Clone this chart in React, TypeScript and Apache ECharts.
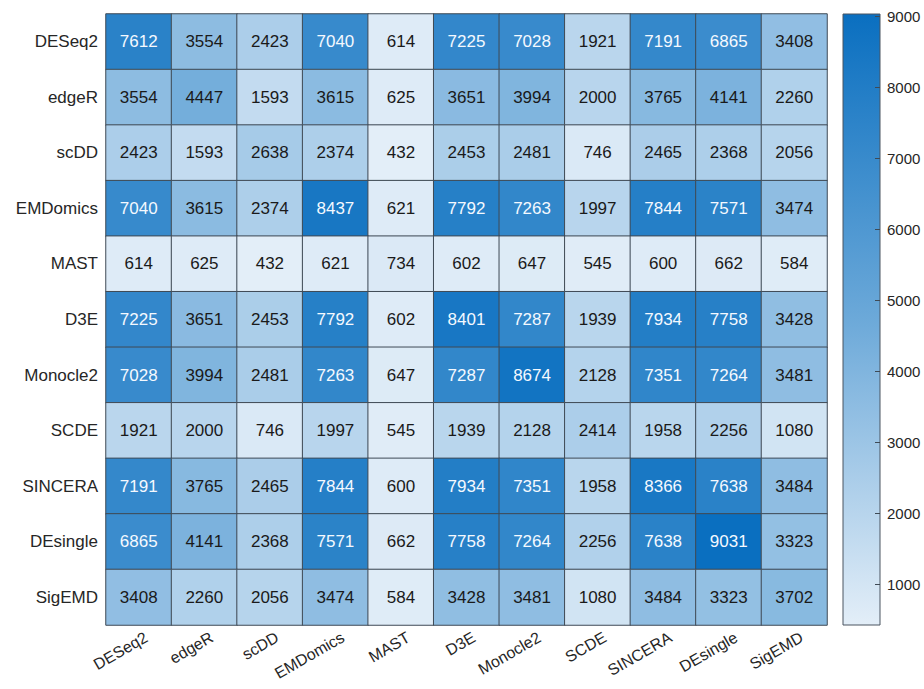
import React, { useEffect, useRef } from "react";
import * as echarts from "echarts";

const methods = ["DESeq2", "edgeR", "scDD", "EMDomics", "MAST", "D3E", "Monocle2", "SCDE", "SINCERA", "DEsingle", "SigEMD"];

const overlap: number[][] = [
  [7612, 3554, 2423, 7040, 614, 7225, 7028, 1921, 7191, 6865, 3408],
  [3554, 4447, 1593, 3615, 625, 3651, 3994, 2000, 3765, 4141, 2260],
  [2423, 1593, 2638, 2374, 432, 2453, 2481, 746, 2465, 2368, 2056],
  [7040, 3615, 2374, 8437, 621, 7792, 7263, 1997, 7844, 7571, 3474],
  [614, 625, 432, 621, 734, 602, 647, 545, 600, 662, 584],
  [7225, 3651, 2453, 7792, 602, 8401, 7287, 1939, 7934, 7758, 3428],
  [7028, 3994, 2481, 7263, 647, 7287, 8674, 2128, 7351, 7264, 3481],
  [1921, 2000, 746, 1997, 545, 1939, 2128, 2414, 1958, 2256, 1080],
  [7191, 3765, 2465, 7844, 600, 7934, 7351, 1958, 8366, 7638, 3484],
  [6865, 4141, 2368, 7571, 662, 7758, 7264, 2256, 7638, 9031, 3323],
  [3408, 2260, 2056, 3474, 584, 3428, 3481, 1080, 3484, 3323, 3702],
];

const colorbarTicks = [1000, 2000, 3000, 4000, 5000, 6000, 7000, 8000, 9000];

const LIGHT = "#e3eef8";
const MID = "#6ca9d9";
const DARK = "#0a6fc0";
const FONT = "'Liberation Sans', Arial, Helvetica, sans-serif";

export default function App() {
  const ref = useRef<HTMLDivElement>(null);

  useEffect(() => {
    document.body.style.margin = "0";
    if (!ref.current) return;
    const chart = echarts.init(ref.current, undefined, { renderer: "svg" });

    const flat = overlap.flat();
    const vmin = Math.min(...flat);
    const vmax = Math.max(...flat);

    const heatData: any[] = [];
    overlap.forEach((row, yi) => {
      row.forEach((v, xi) => {
        heatData.push({
          value: [xi, yi, v],
          label: { color: v > 5500 ? "#f4f9ff" : "#1a1a1a" },
        });
      });
    });

    chart.setOption({
      animation: false,
      backgroundColor: "#ffffff",
      textStyle: { fontFamily: FONT },
      grid: [
        { left: 106, top: 14, width: 721, height: 611, containLabel: false, outerBoundsMode: "none" },
        { left: 843, top: 14, width: 37, height: 611, containLabel: false, outerBoundsMode: "none" },
      ],
      xAxis: [
        {
          type: "category",
          gridIndex: 0,
          data: methods,
          position: "bottom",
          axisLine: { show: false },
          axisTick: { show: false },
          splitLine: { show: false },
          axisLabel: {
            rotate: 30,
            margin: 6,
            fontSize: 16,
            lineHeight: 16,
            color: "#262626",
            fontFamily: FONT,
            interval: 0,
            align: "right",
            verticalAlign: "top",
            padding: [0, -4, 0, 0],
          },
        },
        {
          type: "category",
          gridIndex: 1,
          data: ["cb"],
          show: false,
        },
      ],
      yAxis: [
        {
          type: "category",
          gridIndex: 0,
          data: methods,
          inverse: true,
          axisLine: { show: false },
          axisTick: { show: false },
          splitLine: { show: false },
          axisLabel: {
            margin: 8,
            fontSize: 17,
            color: "#262626",
            fontFamily: FONT,
            interval: 0,
          },
        },
        {
          type: "value",
          gridIndex: 1,
          position: "right",
          min: vmin,
          max: vmax,
          z: 10,
          axisLine: { show: false },
          splitLine: { show: false },
          axisTick: {
            show: true,
            inside: true,
            length: 5,
            customValues: colorbarTicks,
            lineStyle: { color: "#3f4a55", width: 1 },
          },
          axisLabel: {
            show: true,
            margin: 7,
            fontSize: 15,
            color: "#262626",
            fontFamily: FONT,
            customValues: colorbarTicks,
            formatter: (v: number) => String(v),
          },
        },
      ],
      visualMap: {
        show: false,
        type: "continuous",
        seriesIndex: 0,
        dimension: 2,
        min: vmin,
        max: vmax,
        inRange: { color: [LIGHT, MID, DARK] },
      },
      series: [
        {
          type: "heatmap",
          xAxisIndex: 0,
          yAxisIndex: 0,
          data: heatData,
          itemStyle: { borderColor: "#3f4a55", borderWidth: 1 },
          label: {
            show: true,
            fontSize: 17,
            fontFamily: FONT,
            formatter: (p: any) => String(p.value[2]),
          },
          emphasis: { disabled: true },
        },
        {
          type: "custom",
          xAxisIndex: 1,
          yAxisIndex: 1,
          z: 1,
          data: [[0, vmax]],
          renderItem: (params: any, api: any) => {
            const top = api.coord([0, vmax]);
            const bot = api.coord([0, vmin]);
            const size = api.size([1, 0]);
            return {
              type: "rect",
              shape: {
                x: top[0] - size[0] / 2,
                y: top[1],
                width: size[0],
                height: bot[1] - top[1],
              },
              style: {
                fill: new echarts.graphic.LinearGradient(0, 0, 0, 1, [
                  { offset: 0, color: DARK },
                  { offset: 0.5, color: MID },
                  { offset: 1, color: LIGHT },
                ]),
                stroke: "#4a5560",
                lineWidth: 1,
              },
            };
          },
        },
      ],
    });

    return () => chart.dispose();
  }, []);

  return <div ref={ref} style={{ width: 924, height: 689 }} />;
}
